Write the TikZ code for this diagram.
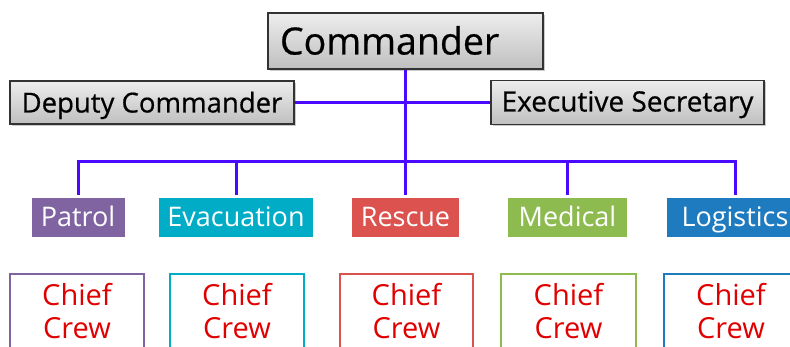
\documentclass[tikz,border=0pt]{standalone}
\usepackage{fontspec}
\setmainfont{Open Sans}
\newfontfamily\heavyfont[FakeBold=0.6]{Open Sans}
\usetikzlibrary{shadows}
\definecolor{linec}{HTML}{4A08FF}
\definecolor{cpatrol}{HTML}{8064A2}
\definecolor{cevac}{HTML}{00ACC6}
\definecolor{cresc}{HTML}{DB524F}
\definecolor{cmed}{HTML}{8DBB50}
\definecolor{clog}{HTML}{1E7BC0}
\definecolor{crewred}{HTML}{E00000}
\tikzset{
  graybox/.style={draw=black!80, line width=1.2pt, top color=black!7, bottom color=black!25,
    drop shadow={shadow xshift=2pt, shadow yshift=-2pt, opacity=0.35, fill=black!60},
    inner sep=0pt, minimum height=#1},
  catbox/.style={draw=white, line width=3pt, fill=#1, text=white,
    drop shadow={shadow xshift=1.5pt, shadow yshift=-1.5pt, opacity=0.3, fill=black!50},
    inner sep=0pt, minimum height=42pt, text height=25pt, text depth=6pt,
    font=\fontsize{27}{30}\selectfont},
  crewbox/.style={draw=#1, line width=1.8pt, fill=white, inner sep=0pt, minimum height=100pt},
  crewtext/.style={text=crewred, align=center, font=\fontsize{29}{33}\selectfont, inner sep=0pt},
  conn/.style={draw=linec, line width=3pt},
}
\begin{document}
\begin{tikzpicture}[x=1pt,y=-1pt]
\useasboundingbox (0,0) rectangle (790,347);
\clip (0,0) rectangle (790,347);
% top level
\node[graybox=56pt, minimum width=275pt, text width=251pt, align=left, inner xsep=12pt,
  text height=35pt, text depth=8pt,
  font=\heavyfont\fontsize{37.5}{40}\selectfont] (cmd) at (405.5,41) {Commander};
\node[graybox=43pt, minimum width=284pt, text height=27pt, text depth=7pt,
  font=\heavyfont\fontsize{27.5}{30}\selectfont] (dep) at (152,102.5) {Deputy Commander};
\node[graybox=44pt, minimum width=273pt, text height=25pt, text depth=7pt,
  font=\heavyfont\fontsize{28}{30}\selectfont] (exe) at (627.5,102.5) {Executive Secretary};
% categories
\node[catbox=cpatrol, minimum width=96pt] (pat) at (78,217.5) {Patrol};
\node[catbox=cevac, minimum width=157pt] (eva) at (236,217.5) {Evacuation};
\node[catbox=cresc, minimum width=110pt] (res) at (405.5,217.5) {Rescue};
\node[catbox=cmed, minimum width=122pt] (med) at (567.5,217.5) {Medical};
\node[catbox=clog, minimum width=140pt] (log) at (735,217.5) {Logistics};
% crew boxes
\node[crewbox=cpatrol, minimum width=134pt, anchor=north] (cpat) at (77,273) {};
\node[crewbox=cevac, minimum width=134pt, anchor=north] (ceva) at (237,273) {};
\node[crewbox=cresc, minimum width=133pt, anchor=north] (cres) at (406.5,273) {};
\node[crewbox=cmed, minimum width=135pt, anchor=north] (cmedb) at (568.5,273) {};
\node[crewbox=clog, minimum width=134pt, anchor=north] (clogb) at (731,273) {};
\foreach \b in {cpat,ceva,cres,cmedb,clogb}{
  \node[crewtext, anchor=north] (t\b) at ([yshift=-10pt]\b.north) {Chief\\Crew};
}
% connectors
\coordinate (bus) at (405.5,162);
\draw[conn] (cmd.south) -- (bus);
\draw[conn] (dep.east) -- (exe.west);
\draw[conn] (pat.north) |- (bus) -| (log.north);
\draw[conn] (eva.north) -- (eva.north |- bus);
\draw[conn] (res.north) -- (res.north |- bus);
\draw[conn] (med.north) -- (med.north |- bus);
\end{tikzpicture}
\end{document}
